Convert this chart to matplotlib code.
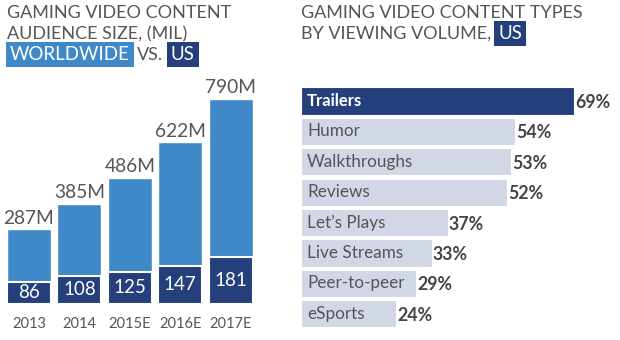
import matplotlib
matplotlib.use("Agg")
import matplotlib.pyplot as plt

plt.rcParams['font.family'] = ['Lato', 'DejaVu Sans']

# ---- data ----
years = ["2013", "2014", "2015E", "2016E", "2017E"]
worldwide = [287, 385, 486, 622, 790]
us = [86, 108, 125, 147, 181]

types = ["Trailers", "Humor", "Walkthroughs", "Reviews", "Let\u2019s Plays",
         "Live Streams", "Peer-to-peer", "eSports"]
shares = [69, 54, 53, 52, 37, 33, 29, 24]

LIGHT = "#3f89c8"
DARK = "#243f7b"
PALE = "#d1d7e5"
GRAY = "#555555"
VAL = "#444444"

W, H = 620, 340
fig = plt.figure(figsize=(W / 100, H / 100), dpi=100)
fig.patch.set_facecolor("white")


def px(x0, y0, x1, y1):
    # left, top, right, bottom pixels -> axes rect
    return [x0 / W, 1 - y1 / H, (x1 - x0) / W, (y1 - y0) / H]


def ftxt(x, y, s, **kw):
    fig.text(x / W, 1 - y / H, s, **kw)


# ---- left chart ----
axL = fig.add_axes(px(3.8, 44, 255.8, 304))
xs = range(len(years))
axL.bar(xs, worldwide, width=0.87, color=LIGHT, edgecolor="white", linewidth=1)
axL.bar(xs, us, width=0.87, color=DARK, edgecolor="white", linewidth=1.5)
axL.set_xlim(-0.5, 4.5)
axL.set_ylim(0, 1000)
for i, (w, u) in enumerate(zip(worldwide, us)):
    axL.text(i, w + 10, f"{w}M", ha="center", va="bottom", fontsize=13.8, color=GRAY)
    axL.text(i, u / 2, f"{u}", ha="center", va="center", fontsize=13.5, color="white")
axL.set_xticks(list(xs))
axL.set_xticklabels(years, fontsize=10.5, color=GRAY)
axL.tick_params(axis="x", length=0, pad=9)
axL.set_yticks([])
for s in axL.spines.values():
    s.set_visible(False)

# ---- right chart ----
axR = fig.add_axes(px(301, 85.8, 618, 329))
ys = range(len(types))
colors = [DARK] + [PALE] * (len(types) - 1)
axR.barh(ys, shares, height=0.9, color=colors, edgecolor="white", linewidth=0.8)
axR.set_xlim(0, 80)
axR.set_ylim(len(types) - 0.5, -0.5)
for i, (t, v) in enumerate(zip(types, shares)):
    if i == 0:
        axR.text(1.5, i, t, ha="left", va="center", fontsize=12, color="white",
                 fontweight="bold")
    else:
        axR.text(1.5, i, t, ha="left", va="center", fontsize=12.3, color=GRAY)
    axR.text(v + 0.3, i + 0.05, f"{v}%", ha="left", va="center", fontsize=12.8,
             color=VAL, fontweight="bold")
axR.set_xticks([])
axR.set_yticks([])
for s in axR.spines.values():
    s.set_visible(False)

# ---- titles ----
tkw = dict(fontsize=13, color=GRAY, va="center", ha="left")
ftxt(7, 13, "GAMING VIDEO CONTENT", **tkw)
ftxt(7, 34, "AUDIENCE SIZE, (MIL)", **tkw)
ftxt(10, 54.5, "WORLDWIDE", fontsize=13.5, color="white", va="center", ha="left",
     bbox=dict(boxstyle="square,pad=0.22", fc=LIGHT, ec="none"))
ftxt(137, 54.5, "VS.", **tkw)
ftxt(171, 54.5, "US", fontsize=13.5, color="white", va="center", ha="left",
     bbox=dict(boxstyle="square,pad=0.22", fc=DARK, ec="none"))

ftxt(301, 13, "GAMING VIDEO CONTENT TYPES", **tkw)
ftxt(301, 34, "BY VIEWING VOLUME,", **tkw)
ftxt(498, 33.5, "US", fontsize=13.5, color="white", va="center", ha="left",
     bbox=dict(boxstyle="square,pad=0.22", fc=DARK, ec="none"))

fig.savefig("out.png", dpi=100, facecolor="white")
